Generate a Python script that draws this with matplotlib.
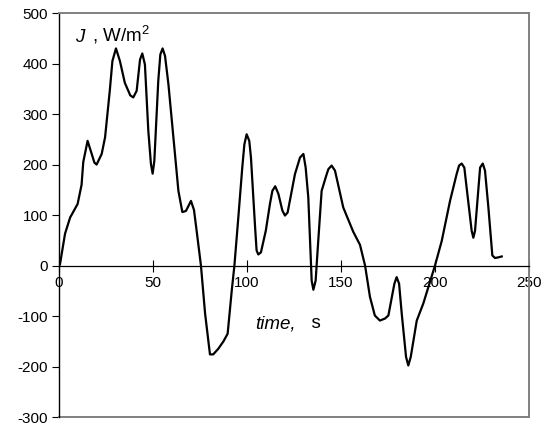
import matplotlib
matplotlib.use('Agg')
from matplotlib import pyplot as plt

plt.rcParams['font.family'] = ['Liberation Sans', 'DejaVu Sans']
plt.rcParams['axes.unicode_minus'] = False

# time, s
t = [0, 0.5, 3.2, 5.9, 9.9, 12, 12.9, 15.2, 17.4, 18.8, 20, 22.7, 24.5, 27,
     28.4, 30.3, 32.4, 35, 37.9, 39.5, 41.3, 43.1, 44.3, 45.7, 47.5, 48.9,
     49.8, 50.7, 52.8, 53.9, 55.1, 56.4, 58.2, 61.7, 63.5, 65.6, 67.5, 70.2,
     71.8, 73.2, 75.5, 77.7, 80.3, 82, 84.7, 87.5, 89.7, 91.9, 93.3, 95.4,
     97.5, 98.6, 99.8, 101.2, 102.1, 104.3, 105.1, 106, 107.4, 110, 112.2,
     113.5, 115, 116.7, 118.8, 120.2, 121.6, 125.5, 128.2, 130, 131.2, 132.6,
     134.4, 135.3, 136.5, 137.9, 139.7, 142.4, 143.3, 145, 146.8, 151.2,
     156.5, 160.1, 162.8, 165.4, 168, 170.7, 173.4, 175.2, 178.4, 179.6,
     180.9, 182.3, 184.6, 185.8, 187.1, 190.3, 193.8, 200, 203.6, 208, 211.5,
     212.8, 214.2, 215.6, 216.8, 219.5, 220.4, 221.3, 223, 224, 225.4, 226.6,
     228.4, 230.5, 231.9, 233.5, 235.5]
# J, W/m2
J = [0, 2, 63, 95, 122, 160, 205, 247, 221, 204, 200, 221, 254, 346,
     405, 430, 405, 362, 337, 333, 346, 408, 420, 398, 267, 201,
     182, 207, 366, 418, 430, 415, 359, 220, 148, 106, 108, 128,
     110, 69, 0, -95, -176, -176, -165, -150, -135, -49, 0, 96,
     195, 240, 260, 247, 214, 76, 30, 22, 26, 69, 122,
     148, 157, 142, 109, 99, 105, 181, 214, 221, 194, 135,
     -30, -48, -30, 49, 148, 181, 191, 198, 188, 115,
     67, 41, 0, -62, -99, -109, -105, -99, -36, -23,
     -36, -95, -181, -198, -181, -109, -75, 0, 49, 128, 181,
     198, 202, 194, 155, 69, 55, 69, 148, 194, 202, 188,
     115, 20, 15, 16, 18]

xticks = [0, 50, 100, 150, 200, 250]
yticks = [-300, -200, -100, 0, 100, 200, 300, 400, 500]

fig = plt.figure(figsize=(5.5, 4.32), dpi=100)
ax = fig.add_axes([0.1073, 0.0347, 0.8545, 0.935])

ax.plot(t, J, color='black', lw=1.6, solid_joinstyle='round')

ax.set_xlim(0, 250)
ax.set_ylim(-300, 500)
ax.set_xticks(xticks)
ax.set_yticks(yticks)

ax.spines['bottom'].set_position(('data', 0))
ax.spines['bottom'].set_color('black')
ax.spines['bottom'].set_linewidth(0.9)
ax.spines['left'].set_color('black')
ax.spines['left'].set_linewidth(1.0)
for s in ['top', 'right']:
    ax.spines[s].set_color('#808080')
    ax.spines[s].set_linewidth(1.4)
# gray frame bottom edge
ax.plot([0, 1], [0, 0], transform=ax.transAxes, color='#808080', lw=1.4,
        clip_on=False)

ax.tick_params(axis='x', direction='inout', length=9, width=0.8,
               labelsize=11, pad=3)
ax.tick_params(axis='y', direction='out', length=5, width=0.8,
               labelsize=11, pad=3)

# axis captions inside the plot
ax.text(8.5, 443, 'J', fontsize=13.5, style='italic', va='baseline')
ax.text(15.0, 443, ' , W/m$^{\\mathregular{2}}$', fontsize=13.5, va='baseline')
ax.text(104.3, -124, 'time,', fontsize=13.5, style='italic', va='baseline')
ax.text(128.5, -124, '  s', fontsize=13.5, va='baseline')

plt.savefig('out.png')
